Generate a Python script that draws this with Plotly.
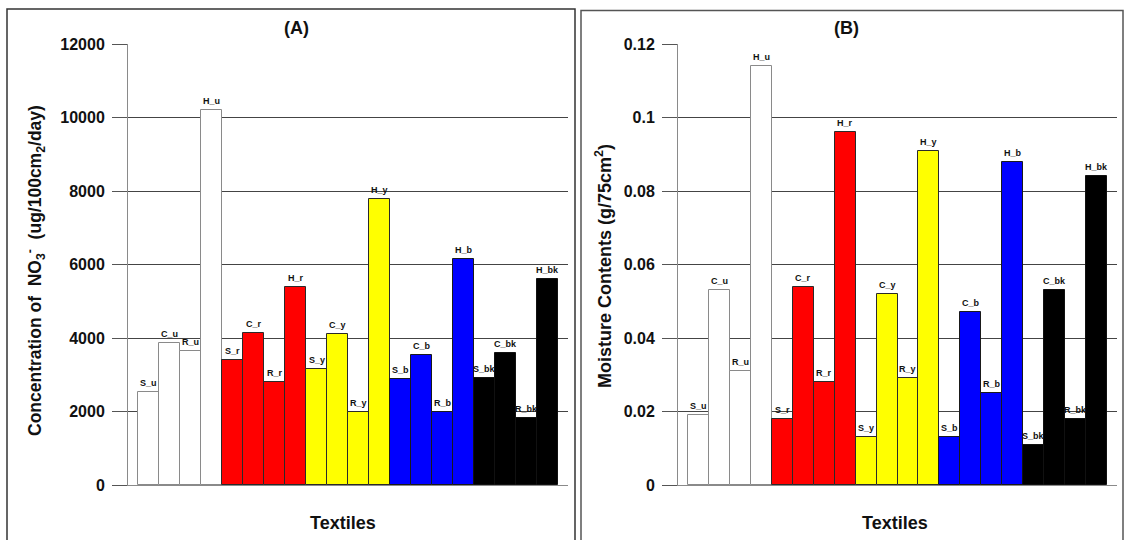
import plotly.graph_objects as go

# ---------------- data ----------------
names = ["S_u", "C_u", "R_u", "H_u",
         "S_r", "C_r", "R_r", "H_r",
         "S_y", "C_y", "R_y", "H_y",
         "S_b", "C_b", "R_b", "H_b",
         "S_bk", "C_bk", "R_bk", "H_bk"]
groups = ["u", "r", "y", "b", "bk"]

no3_values = [2530, 3870, 3660, 10200,
              3390, 4130, 2810, 5380,
              3170, 4100, 2000, 7780,
              2890, 3540, 1990, 6150,
              2920, 3580, 1810, 5600]

moisture_values = [0.019, 0.053, 0.031, 0.114,
                   0.018, 0.054, 0.028, 0.096,
                   0.013, 0.052, 0.029, 0.091,
                   0.013, 0.047, 0.025, 0.088,
                   0.011, 0.053, 0.018, 0.084]

left_ticks = [0, 2000, 4000, 6000, 8000, 10000, 12000]
left_ticktext = ["0", "2000", "4000", "6000", "8000", "10000", "12000"]
right_ticks = [0, 0.02, 0.04, 0.06, 0.08, 0.10, 0.12]
right_ticktext = ["0", "0.02", "0.04", "0.06", "0.08", "0.1", "0.12"]

# ---------------- styles ----------------
group_fill = {"u": "#ffffff", "r": "#ff0000", "y": "#ffff00", "b": "#0000ff", "bk": "#000000"}
group_line = {"u": "#8a8a8a", "r": "#2a2a2a", "y": "#2a2a2a", "b": "#1a1a1a", "bk": "#111111"}

bar_group = [n.split("_")[1] for n in names]
fills = [group_fill[g] for g in bar_group]
lines = [group_line[g] for g in bar_group]
idx = list(range(len(names)))

FONT = "Liberation Sans, Arial, sans-serif"
W, H = 1125, 540

fig = go.Figure()

for vals, xa, ya in [(no3_values, "x", "y"), (moisture_values, "x2", "y2")]:
    fig.add_trace(go.Bar(
        x=idx, y=vals, width=1, xaxis=xa, yaxis=ya,
        marker=dict(color=fills, line=dict(color=lines, width=1)),
        showlegend=False, hoverinfo="skip"))

# bar labels
for vals, xa, ya in [(no3_values, "x", "y"), (moisture_values, "x2", "y2")]:
    for i, (n, v) in enumerate(zip(names, vals)):
        fig.add_annotation(x=i, y=v, xref=xa, yref=ya, text=n, showarrow=False,
                           yanchor="bottom", xanchor="center", yshift=2,
                           font=dict(family=FONT, size=9, color="#111", weight="bold"))

xr = [-0.5 - 10 / 21, len(names) - 0.5 + 10 / 21]
ybot = (H - 485) / H
ytop = (H - 44) / H

common_x = dict(range=xr, showticklabels=False, showgrid=False, zeroline=False,
                showline=True, linecolor="#8a8a8a", linewidth=1, ticks="",
                automargin=False)
common_y = dict(ticks="outside", ticklen=15, tickcolor="#555", tickwidth=1,
                showgrid=True, gridcolor="#444", gridwidth=1,
                showline=True, linecolor="#8a8a8a", linewidth=1, zeroline=False,
                ticklabelstandoff=4, automargin=False,
                tickfont=dict(family=FONT, size=16, color="#111", weight="bold"))

fig.update_layout(
    template="none",
    width=W, height=H, margin=dict(l=0, r=0, t=0, b=0, pad=0), autosize=False,
    plot_bgcolor="white", paper_bgcolor="white", bargap=0,
    xaxis=dict(domain=[128 / W, 568 / W], anchor="y", **common_x),
    yaxis=dict(domain=[ybot, ytop], anchor="x", range=[0, 12000],
               tickvals=left_ticks, ticktext=left_ticktext, **common_y),
    xaxis2=dict(domain=[678 / W, 1117 / W], anchor="y2", **common_x),
    yaxis2=dict(domain=[ybot, ytop], anchor="x2", range=[0, 0.12],
                tickvals=right_ticks, ticktext=right_ticktext, **common_y),
)

# panel frames
fig.add_shape(type="rect", xref="paper", yref="paper",
              x0=7 / W, x1=575 / W, y0=-0.1, y1=(H - 9) / H,
              line=dict(color="#333", width=1.5), fillcolor="rgba(0,0,0,0)", layer="above")
fig.add_shape(type="rect", xref="paper", yref="paper",
              x0=581 / W, x1=1123 / W, y0=-0.1, y1=(H - 10.5) / H,
              line=dict(color="#555", width=1.5), fillcolor="rgba(0,0,0,0)", layer="above")


def paper_text(x, y, text, font, angle=0):
    fig.add_annotation(x=x / W, y=(H - y) / H, xref="paper", yref="paper", text=text,
                       showarrow=False, xanchor="center", yanchor="middle",
                       textangle=angle, font=font)


title_font = dict(family=FONT, size=18, color="#111", weight="bold")
paper_text(296, 28, "(A)", title_font)
paper_text(846, 28, "(B)", title_font)
paper_text(343, 523, "Textiles", title_font)
paper_text(895, 523, "Textiles", title_font)

paper_text(36, 271,
           "Concentration of  NO<sub>3</sub><sup>-</sup>  (ug/100cm<sub>2</sub>/day)",
           dict(family=FONT, size=17.5, color="#111", weight="bold"), angle=-90)
paper_text(603, 266, "Moisture Contents (g/75cm<sup>2</sup>)",
           dict(family=FONT, size=18, color="#111", weight="bold"), angle=-90)

fig.write_html("out.html", config={"displayModeBar": False},
               post_script="document.body.style.margin='0px';")
